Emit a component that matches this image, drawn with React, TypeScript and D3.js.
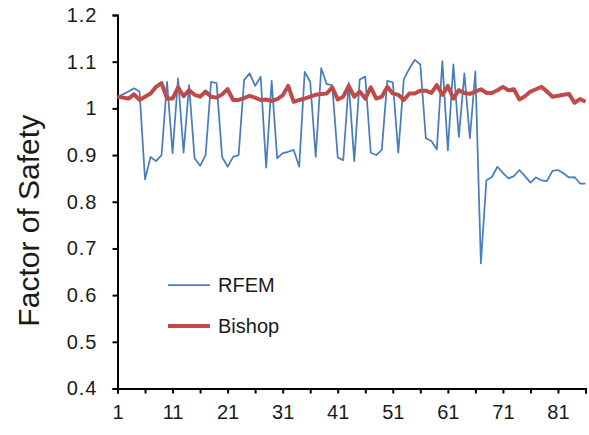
import React, { useEffect, useRef } from 'react'
import * as d3 from 'd3'

// Factor of safety per realisation
const rfemValues = [
  1.025, 1.03, 1.036, 1.043, 1.036,
  0.848, 0.896, 0.887, 0.9, 1.057,
  0.904, 1.064, 0.905, 1.05, 0.893,
  0.877, 0.9, 1.057, 1.054, 0.896,
  0.875, 0.896, 0.9, 1.061, 1.075,
  1.048, 1.068, 0.873, 1.059, 0.893,
  0.904, 0.907, 0.911, 0.875, 1.078,
  1.057, 0.896, 1.086, 1.052, 1.05,
  0.895, 0.889, 1.055, 0.887, 1.062,
  1.068, 0.905, 0.9, 0.911, 1.059,
  1.056, 0.905, 1.062, 1.085, 1.104,
  1.094, 0.936, 0.93, 0.912, 1.101,
  0.91, 1.094, 0.939, 1.075, 0.936,
  1.079, 0.668,
  0.846, 0.853, 0.875, 0.862, 0.85, 0.855, 0.868, 0.855, 0.841, 0.852,
  0.846, 0.844, 0.866, 0.868, 0.861, 0.852, 0.853, 0.839, 0.839
]

const bishopValues = [
  1.025, 1.023, 1.021, 1.03, 1.018, 1.025, 1.032, 1.046, 1.054, 1.021,
  1.021, 1.045, 1.026, 1.039, 1.029, 1.025, 1.036, 1.025, 1.023, 1.03,
  1.041, 1.018, 1.018, 1.022, 1.027, 1.023, 1.018, 1.019, 1.016, 1.02,
  1.028, 1.048, 1.014, 1.018, 1.021, 1.025, 1.029, 1.031, 1.032, 1.045,
  1.019, 1.025, 1.048, 1.025, 1.036, 1.021, 1.045, 1.021, 1.025, 1.046,
  1.032, 1.029, 1.018, 1.032, 1.032, 1.038, 1.038, 1.033, 1.05, 1.029,
  1.048, 1.021, 1.039, 1.033, 1.031, 1.036, 1.041, 1.033, 1.033, 1.039,
  1.046, 1.039, 1.041, 1.019, 1.026, 1.036, 1.041, 1.046, 1.036, 1.025,
  1.027, 1.029, 1.031, 1.012, 1.02, 1.014
]

const categories = d3.range(1, rfemValues.length + 1)
const xTickLabels = [1, 11, 21, 31, 41, 51, 61, 71, 81]
const yTicks = [0.4, 0.5, 0.6, 0.7, 0.8, 0.9, 1.0, 1.1, 1.2]

const series = [
  { name: 'RFEM', values: rfemValues, color: '#4a7ebb', width: 1.75 },
  { name: 'Bishop', values: bishopValues, color: '#be4b48', width: 4 }
]

const FONT = '"Liberation Sans", Arial, sans-serif'

const App: React.FC = () => {
  const svgRef = useRef<SVGSVGElement>(null)

  useEffect(() => {
    if (!svgRef.current) return
    const svg = d3.select(svgRef.current)
    svg.selectAll('*').remove()

    const width = 589
    const height = 435
    const margin = { top: 15, right: 3.5, bottom: 46.5, left: 117.5 }

    const x = d3.scaleLinear()
      .domain([1, categories.length])
      .range([margin.left, width - margin.right])
    const y = d3.scaleLinear()
      .domain([0.4, 1.2])
      .range([height - margin.bottom, margin.top])

    // y axis
    const yAxis = svg.append('g')
      .attr('transform', `translate(${margin.left},0)`)
      .call(d3.axisLeft(y)
        .tickValues(yTicks)
        .tickSize(5)
        .tickPadding(15)
        .tickFormat(d => String(Math.round(+d * 10) / 10)))
    yAxis.select('.domain').attr('stroke', '#000').attr('stroke-width', 2)
    yAxis.selectAll('.tick line').attr('stroke', '#000').attr('stroke-width', 2)
    yAxis.selectAll('.tick text')
      .style('font-family', FONT)
      .style('font-size', '20px')
      .style('letter-spacing', '1px')
      .attr('fill', '#1a1a1a')

    // x axis, tick every 5 categories, label every 10
    const xAxis = svg.append('g')
      .attr('transform', `translate(0,${height - margin.bottom})`)
      .call(d3.axisBottom(x)
        .tickValues(categories.filter(c => (c - 1) % 5 === 0))
        .tickSize(5)
        .tickPadding(11)
        .tickFormat(d => (xTickLabels.includes(+d) ? String(d) : '')))
    xAxis.select('.domain').attr('stroke', '#000').attr('stroke-width', 2)
    xAxis.selectAll('.tick line').attr('stroke', '#000').attr('stroke-width', 2)
    xAxis.selectAll('.tick text')
      .style('font-family', FONT)
      .style('font-size', '20px')
      .attr('fill', '#1a1a1a')

    // axis title
    svg.append('text')
      .attr('transform', `translate(39,${(margin.top + height - margin.bottom) / 2 + 19}) rotate(-90)`)
      .attr('text-anchor', 'middle')
      .style('font-family', FONT)
      .style('font-size', '30px')
      .attr('fill', '#1a1a1a')
      .text('Factor of Safety')

    // series lines
    series.forEach(s => {
      const line = d3.line<number>()
        .x((_, i) => x(categories[i]))
        .y(d => y(d))
      svg.append('path')
        .datum(s.values)
        .attr('d', line)
        .attr('fill', 'none')
        .attr('stroke', s.color)
        .attr('stroke-width', s.width)
        .attr('stroke-linejoin', 'round')
    })

    // legend
    const legend = svg.append('g').attr('transform', 'translate(168,285)')
    series.forEach((s, i) => {
      legend.append('line')
        .attr('x1', 0)
        .attr('x2', 42)
        .attr('y1', i * 41)
        .attr('y2', i * 41)
        .attr('stroke', s.color)
        .attr('stroke-width', s.width)
      legend.append('text')
        .attr('x', 50)
        .attr('y', i * 41)
        .attr('dy', '0.35em')
        .style('font-family', FONT)
        .style('font-size', '20px')
        .attr('fill', '#1a1a1a')
        .text(s.name)
    })
  }, [])

  return (
    <svg
      ref={svgRef}
      width={589}
      height={435}
      style={{ position: 'absolute', left: 0, top: 0, background: '#fff' }}
    />
  )
}

export default App
